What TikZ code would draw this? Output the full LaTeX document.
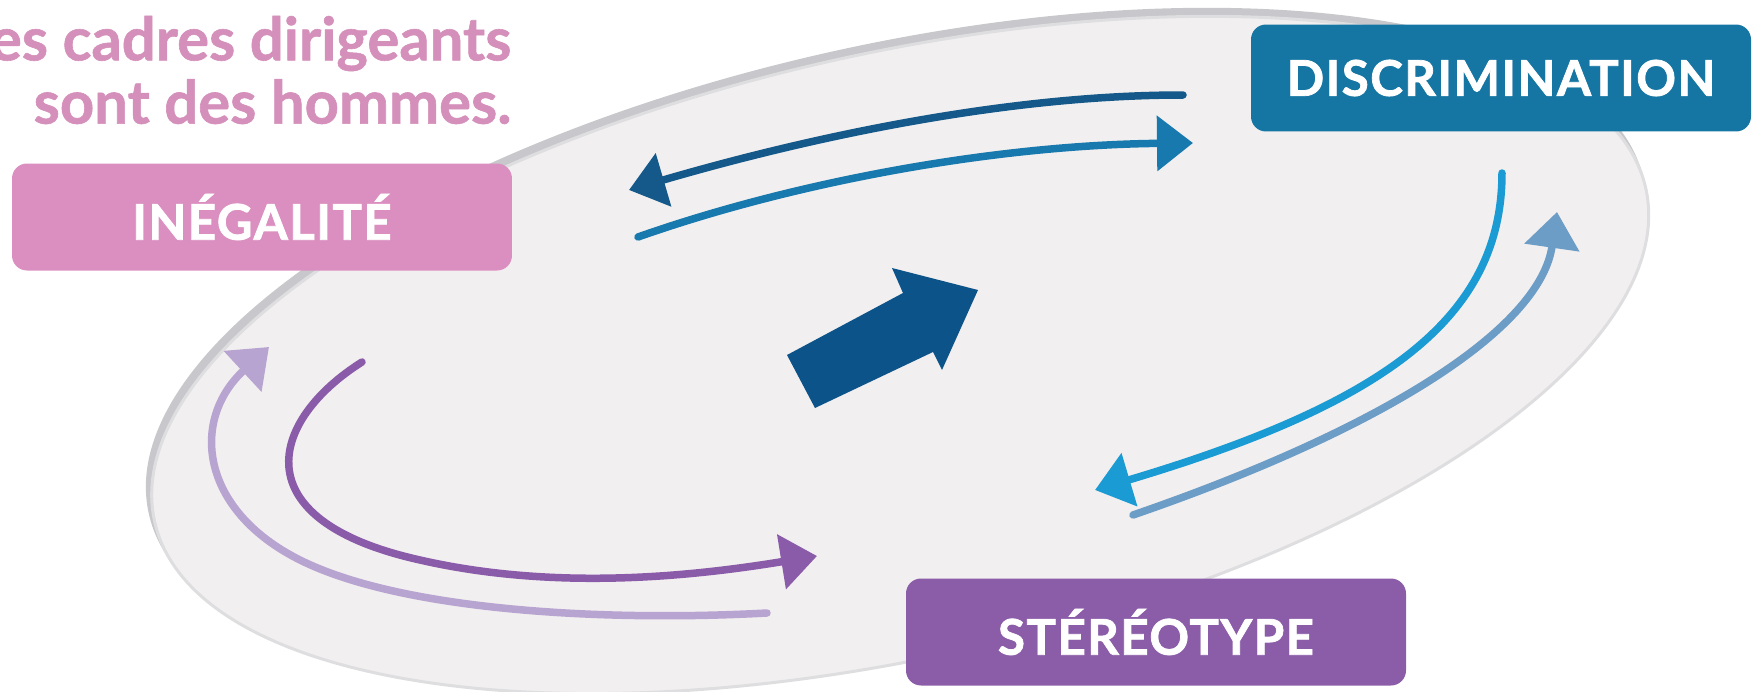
\documentclass[tikz,border=0pt]{standalone}
\usepackage{fontspec}
\setmainfont{Lato}
\usetikzlibrary{arrows.meta}

\definecolor{rosebox}{HTML}{DB8FC0}
\definecolor{rosetxt}{HTML}{D48FBA}
\definecolor{bleubox}{HTML}{1676A3}
\definecolor{violetbox}{HTML}{8B5CA8}
\definecolor{bleufonce}{HTML}{14598A}
\definecolor{bleumoyen}{HTML}{1779AD}
\definecolor{bleugros}{HTML}{0B5388}
\definecolor{cyanfl}{HTML}{1B9BD3}
\definecolor{acierfl}{HTML}{6C9DC7}
\definecolor{violetfl}{HTML}{8A5BA9}
\definecolor{lilasfl}{HTML}{B8A4D1}
\definecolor{fondell}{HTML}{F2EFF0}
\definecolor{bordell}{HTML}{C8C8CC}

\tikzset{
  boite/.style={rounded corners=1.5mm, minimum width=50mm, minimum height=10.7mm,
    inner sep=0pt, text=white,
    font=\fontsize{14}{14}\selectfont\bfseries\addfontfeatures{LetterSpace=3,FakeBold=1.5}},
  fleche/.style={line width=0.75mm, line cap=round,
    -{Triangle[length=3.6mm,width=5.4mm]}},
}

\begin{document}
\begin{tikzpicture}[x=0.1mm,y=-0.1mm]
\useasboundingbox (0,0) rectangle (1755,692);

% ellipse de fond
\fill[bordell, rotate around={12.6:(900,354)}] (898,346) ellipse [x radius=766, y radius=302];
\fill[fondell, draw=bordell!60, line width=0.3mm, rotate around={12.6:(900,354)}] (900,355) ellipse [x radius=764, y radius=302];

% titre
\node[anchor=east, align=right, inner sep=0pt, text=rosetxt,
  font=\fontsize{17}{18}\selectfont\bfseries\addfontfeatures{FakeBold=1}] (titre) at (512,70)
  {es cadres dirigeants\\ sont des hommes.};

% boites
\node[boite, fill=rosebox] (ineg) at (262,217) {INÉGALITÉ};
\node[boite, fill=bleubox] (discr) at (1501,78) {DISCRIMINATION};
\node[boite, fill=violetbox] (stereo) at (1156,632) {STÉRÉOTYPE};

% haut
\coordinate (h1a) at (1183,95);
\coordinate (h1b) at (629,190);
\draw[fleche, bleufonce] (h1a) .. controls (1000,95) and (800,140) .. (h1b);
\coordinate (h2a) at (638,237);
\coordinate (h2b) at (1193,143);
\draw[fleche, bleumoyen] (h2a) .. controls (800,180) and (1000,145) .. (h2b);

% droite
\coordinate (d1a) at (1502,173);
\coordinate (d1b) at (1095,490);
\draw[fleche, cyanfl] (d1a) .. controls (1502,320) and (1380,405) .. (d1b);
\coordinate (d2a) at (1133,515);
\coordinate (d2b) at (1557,212);
\draw[fleche, acierfl] (d2a) .. controls (1380,430) and (1540,330) .. (d2b);

% gauche
\coordinate (g1a) at (362,362);
\coordinate (g1b) at (817,556);
\draw[fleche, violetfl] (g1a) .. controls (270,420) and (240,520) .. (420,560)
  .. controls (560,592) and (700,575) .. (g1b);
\coordinate (g2a) at (767,613);
\coordinate (g2b) at (269,347);
\draw[fleche, lilasfl] (g2a) .. controls (600,622) and (400,610) .. (300,560)
  .. controls (200,510) and (190,420) .. (g2b);

% grosse fleche
\fill[bleugros] (787,355) -- (903,293) -- (892,268) -- (978,290) -- (942,370)
  -- (933,352) -- (815,408) -- cycle;

\end{tikzpicture}
\end{document}
